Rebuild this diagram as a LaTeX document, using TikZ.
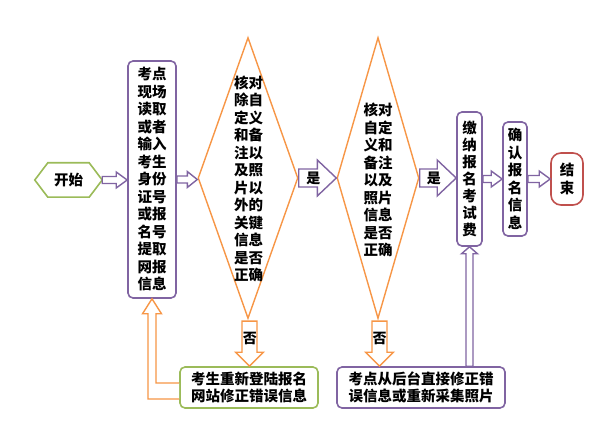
\documentclass[tikz,border=0pt]{standalone}
\usepackage{fontspec}
\setmainfont{Noto Sans CJK SC}
\usetikzlibrary{calc,shapes.geometric}
\definecolor{cpurple}{HTML}{8064A2}
\definecolor{corange}{HTML}{F79646}
\definecolor{cgreen}{HTML}{9BBB59}
\definecolor{cred}{HTML}{C0504D}
% horizontal hollow block arrow: color, from, to, shaft half, head half, head length
\newcommand{\harrow}[6]{%
  \draw[#1, line width=1.4pt, fill=white, line join=miter] let \p1=(#2), \p2=(#3) in
    (\x1,\y1+#4pt) -- (\x2-#6pt,\y1+#4pt) -- (\x2-#6pt,\y1+#5pt) -- (\x2,\y1)
    -- (\x2-#6pt,\y1-#5pt) -- (\x2-#6pt,\y1-#4pt) -- (\x1,\y1-#4pt) -- cycle;}
% vertical hollow block arrow pointing down
\newcommand{\darrow}[6]{%
  \draw[#1, line width=1.4pt, fill=white, line join=miter] let \p1=(#2), \p2=(#3) in
    (\x1-#4pt,\y1) -- (\x1-#4pt,\y2+#6pt) -- (\x1-#5pt,\y2+#6pt) -- (\x1,\y2)
    -- (\x1+#5pt,\y2+#6pt) -- (\x1+#4pt,\y2+#6pt) -- (\x1+#4pt,\y1) -- cycle;}
% vertical hollow block arrow pointing up
\newcommand{\uarrow}[6]{%
  \draw[#1, line width=1.4pt, fill=white, line join=miter] let \p1=(#2), \p2=(#3) in
    (\x2-#4pt,\y1) -- (\x2-#4pt,\y2-#6pt) -- (\x2-#5pt,\y2-#6pt) -- (\x2,\y2)
    -- (\x2+#5pt,\y2-#6pt) -- (\x2+#4pt,\y2-#6pt) -- (\x2+#4pt,\y1) -- cycle;}
\begin{document}
\begin{tikzpicture}[x=1pt,y=-1pt,
  txt/.style={font=\fontsize{14.5}{17.5}\selectfont\bfseries, align=center, inner sep=0pt, text=black},
  boxbase/.style={txt, line width=1.6pt, rounded corners=5pt, fill=white},
  pbox/.style={boxbase, draw=cpurple},
  gbox/.style={boxbase, draw=cgreen},
  rbox/.style={boxbase, draw=cred, rounded corners=10pt},
  dia/.style={diamond, draw=corange, line width=1.4pt, inner sep=0pt, fill=white},
  lbl/.style={txt, font=\fontsize{14}{16}\selectfont\bfseries}
]
\useasboundingbox[fill=white] (0,0) rectangle (598,425);

% start hexagon
\node[txt, minimum width=67, minimum height=34] (start) at (68.5,180) {开始};
\draw[cgreen, line width=1.6pt, line join=miter]
  (start.west) -- ($(start.north west)+(13,0)$) -- ($(start.north east)+(-13,0)$)
  -- (start.east) -- ($(start.south east)+(-13,0)$) -- ($(start.south west)+(13,0)$) -- cycle;

% boxes
\node[pbox, minimum width=48, minimum height=237] (box1) at (152,179.5)
  {考点\\现场\\读取\\或者\\输入\\考生\\身份\\证号\\或报\\名号\\提取\\网报\\信息};
\node[dia, minimum width=100, minimum height=281] (d1) at (248,178) {};
\node[txt] (d1t) at (248.5,179)
  {核对\\除自\\定义\\和备\\注以\\及照\\片以\\外的\\关键\\信息\\是否\\正确};
\node[dia, minimum width=82, minimum height=281] (d2) at (378,178) {};
\node[txt] (d2t) at (378,180)
  {核对\\自定\\义和\\备注\\以及\\照片\\信息\\是否\\正确};
\node[pbox, minimum width=25, minimum height=134, font=\fontsize{14.5}{16.9}\selectfont\bfseries] (box3) at (469.5,179)
  {缴\\纳\\报\\名\\考\\试\\费};
\node[pbox, minimum width=24, minimum height=114] (box4) at (515,179)
  {确\\认\\报\\名\\信\\息};
\node[rbox, minimum width=32, minimum height=52] (end) at (567,179) {结\\束};
\node[gbox, minimum width=138, minimum height=41] (box2) at (249,387.5)
  {考生重新登陆报名\\网站修正错误信息};
\node[pbox, minimum width=168, minimum height=41] (box5) at (421,387.5)
  {考点从后台直接修正错\\误信息或重新采集照片};

% horizontal arrows
\harrow{cpurple}{start.east}{box1.west}{3.5}{8}{11}
\harrow{cpurple}{box1.east}{d1.west}{3.5}{8}{10}
\harrow{cpurple}{d1.east}{d2.west}{9}{18}{19}
\node[lbl] (yes1) at ($(d1.east)!0.39!(d2.west)$) {是};
\harrow{cpurple}{d2.east}{box3.west}{9}{18}{19}
\node[lbl] (yes2) at ($(d2.east)!0.39!(box3.west)$) {是};
\harrow{cpurple}{box3.east}{box4.west}{3.5}{8}{11}
\harrow{cpurple}{box4.east}{end.west}{3.5}{8}{11}

% down arrows (no)
\darrow{corange}{$(d1.south)+(1.5,2)$}{box2.north}{7.5}{14}{14}
\node[lbl] (no1) at ($(d1.south)!0.42!(box2.north)+(1.5,0)$) {否};
\darrow{corange}{$(d2.south)+(1.5,2)$}{box2.north -| d2.south}{7.5}{14}{14}
\node[lbl] (no2) at ($(d2.south)!0.42!(box5.north -| d2.south)+(1.5,0)$) {否};

% up arrow from box5 to box3
\uarrow{cpurple}{box3.south |- box5.north}{box3.south}{3.5}{8}{7}

% L-shaped feedback arrow from box2 to box1
\draw[corange, line width=1.4pt, fill=white, line join=miter]
  let \p1=(box2.west), \p2=(box1.south) in
  (\x1,\y1+4.5pt) -- (\x2+4pt,\y1+4.5pt) -- (\x2+4pt,\y2-15pt) -- (\x2+9.5pt,\y2-15pt)
  -- (\x2,\y2) -- (\x2-9.5pt,\y2-15pt) -- (\x2-4pt,\y2-15pt) -- (\x2-4pt,\y1-11.5pt)
  -- (\x1,\y1-11.5pt);
\end{tikzpicture}
\end{document}
